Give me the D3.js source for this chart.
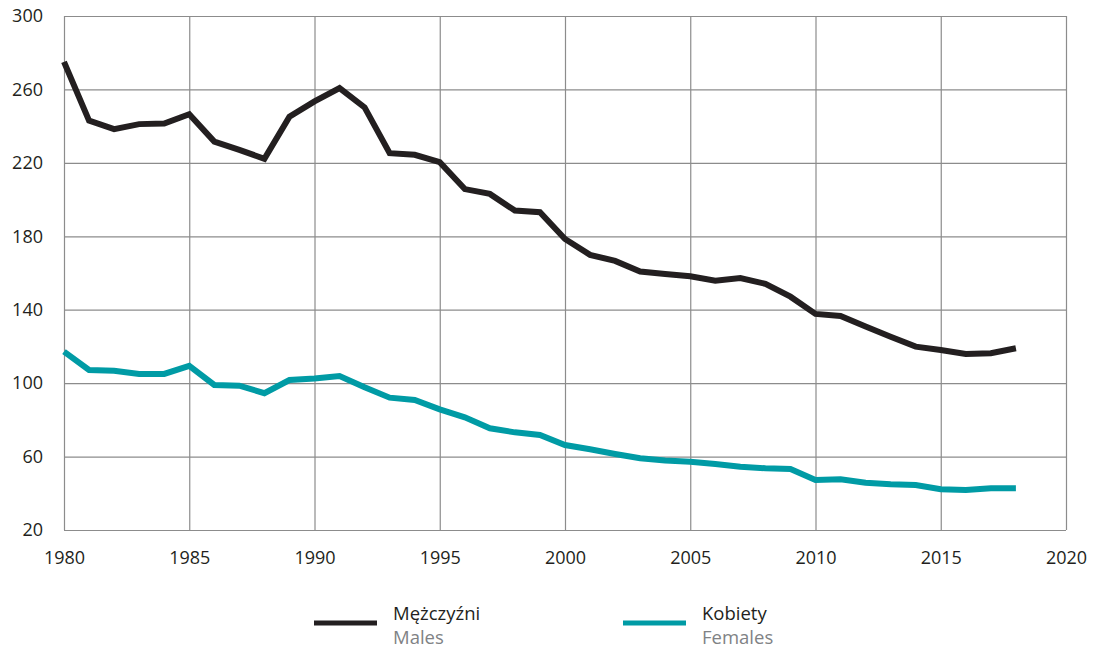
<!DOCTYPE html>
<html>
<head>
<meta charset="utf-8">
<script src="https://cdn.jsdelivr.net/npm/d3@7"></script>
<style>
  body { margin: 0; background: #fff; }
  text { font-family: "Open Sans", sans-serif; }
</style>
</head>
<body>
<script>
const years = d3.range(1980, 2019);
const males = [275, 243, 238.4, 241.1, 241.4, 246.5, 231.6, 227.1, 222.2, 245.2,
  253.5, 260.7, 250.2, 225.3, 224.4, 220.4, 205.7, 203.1, 194, 193.1,
  178.5, 169.9, 166.6, 160.8, 159.5, 158.2, 155.8, 157.2, 154.1, 147.1,
  137.7, 136.6, 130.8, 125.3, 119.9, 118.1, 115.9, 116.3, 119];
const females = [117.2, 107.2, 106.8, 105, 105, 109.4, 99, 98.6, 94.5, 101.7,
  102.5, 103.9, 97.8, 92.1, 90.8, 85.7, 81.4, 75.4, 73.2, 71.8,
  66.3, 64, 61.4, 59.1, 57.8, 57.2, 56, 54.5, 53.6, 53.2,
  47.2, 47.6, 45.8, 44.9, 44.5, 42.2, 41.8, 42.7, 42.7];
const yTicks = [20, 60, 100, 140, 180, 220, 260, 300];
const xTicks = [1980, 1985, 1990, 1995, 2000, 2005, 2010, 2015, 2020];
const series = [
  { pl: "Mężczyźni", en: "Males", values: males, color: "#231f20" },
  { pl: "Kobiety", en: "Females", values: females, color: "#009ba5" }
];

const margin = { top: 16, right: 27, bottom: 118, left: 64 };
const W = 1093, H = 648;
const width = W - margin.left - margin.right;
const height = H - margin.top - margin.bottom;

const x = d3.scaleLinear().domain([1980, 2020]).range([0, width]);
const y = d3.scaleLinear().domain([20, 300]).range([height, 0]);

const svg = d3.select("body").append("svg")
    .attr("width", W)
    .attr("height", H);

const g = svg.append("g")
    .attr("transform", `translate(${margin.left},${margin.top})`);

// grid
g.append("g")
    .selectAll("line")
    .data(yTicks)
    .join("line")
    .attr("x1", 0).attr("x2", width)
    .attr("y1", d => y(d) + 0.5).attr("y2", d => y(d) + 0.5)
    .attr("stroke", "#8c8c8c")
    .attr("stroke-width", 1.2);

g.append("g")
    .selectAll("line")
    .data(xTicks)
    .join("line")
    .attr("x1", d => x(d) + 0.5).attr("x2", d => x(d) + 0.5)
    .attr("y1", 0).attr("y2", height)
    .attr("stroke", "#8c8c8c")
    .attr("stroke-width", 1.2);

// axes labels
const yAxis = d3.axisLeft(y).tickValues(yTicks).tickSize(0).tickPadding(21);
g.append("g").call(yAxis)
    .call(a => a.select(".domain").remove())
    .selectAll("text")
    .style("font-size", "18px")
    .attr("fill", "#231f20");

const xAxis = d3.axisBottom(x).tickValues(xTicks).tickFormat(d3.format("d")).tickSize(0).tickPadding(21);
g.append("g")
    .attr("transform", `translate(0,${height})`)
    .call(xAxis)
    .call(a => a.select(".domain").remove())
    .selectAll("text")
    .style("font-size", "18px")
    .attr("fill", "#231f20");

// lines
const line = d3.line()
    .x((d, i) => x(years[i]))
    .y(d => y(d));

g.selectAll(".series")
    .data(series)
    .join("path")
    .attr("class", "series")
    .attr("d", d => line(d.values))
    .attr("fill", "none")
    .attr("stroke", d => d.color)
    .attr("stroke-width", 6)
    .attr("stroke-linejoin", "miter");

// legend
const legend = svg.append("g")
    .selectAll("g")
    .data(series)
    .join("g")
    .attr("transform", (d, i) => `translate(${314 + i * 309},0)`);

legend.append("line")
    .attr("x1", 0).attr("x2", 63)
    .attr("y1", 623).attr("y2", 623)
    .attr("stroke", d => d.color)
    .attr("stroke-width", 5);

legend.append("text")
    .attr("x", 79).attr("y", 620)
    .style("font-size", "18.5px")
    .attr("fill", "#231f20")
    .text(d => d.pl);

legend.append("text")
    .attr("x", 79).attr("y", 644)
    .style("font-size", "18.5px")
    .attr("fill", "#808285")
    .text(d => d.en);
</script>
</body>
</html>
